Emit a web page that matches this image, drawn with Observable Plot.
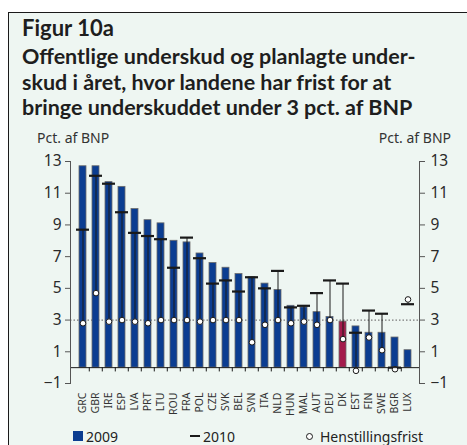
<!DOCTYPE html>
<html>
<head>
<meta charset="utf-8">
<script src="https://cdn.jsdelivr.net/npm/d3@7"></script>
<script src="https://cdn.jsdelivr.net/npm/@observablehq/plot@0.6"></script>
<style>
  html, body { margin: 0; padding: 0; background: #fff; }
  #root { position: relative; width: 467px; height: 445px; overflow: hidden; background: #fff; font-family: "Noto Sans", sans-serif; }
  #panel { position: absolute; left: 8px; top: 12px; right: 0; bottom: 0; background: #eef6f2; border-top: 1.5px solid #1a1a1a; border-left: 1.5px solid #1a1a1a; }
  .title { position: absolute; left: 22px; color: #1e1e1e; font-family: Lato, sans-serif; font-weight: 700; white-space: nowrap; }
  .unit { position: absolute; top: 128px; font-size: 14px; color: #333; font-family: "Noto Sans", sans-serif; }
  #chart { position: absolute; left: 0; top: 125px; }
  #legend { position: absolute; top: 426px; left: 0; width: 467px; height: 20px; font-size: 14px; color: #222; font-family: "Noto Sans", sans-serif; }
  .li { position: absolute; top: 0; display: flex; align-items: center; height: 20px; }
</style>
</head>
<body>
<div id="root">
  <div id="panel"></div>
  <div class="title" style="top:15px;font-size:22px;line-height:26px;">Figur 10a</div>
  <div class="title" style="top:44px;font-size:21.5px;line-height:25.5px;">Offentlige underskud og planlagte under-<br>skud i året, hvor landene har frist for at<br>bringe underskuddet under 3 pct. af BNP</div>
  <div class="unit" style="left:37px;">Pct. af BNP</div>
  <div class="unit" style="right:16px;">Pct. af BNP</div>
  <div id="chart"></div>
  <div id="legend">
    <div class="li" style="left:73px;"><span style="display:inline-block;width:10px;height:10px;background:#0b3d91;margin-right:3px;"></span>2009</div>
    <div class="li" style="left:190px;"><span style="display:inline-block;width:10px;height:2.5px;background:#1a1a1a;margin-right:3px;"></span>2010</div>
    <div class="li" style="left:306px;"><span style="display:inline-block;width:5px;height:5px;border:1px solid #1a1a1a;border-radius:50%;background:#fff;margin-right:7px;"></span>Henstillingsfrist</div>
  </div>
</div>
<script>
const countries = ["GRC","GBR","IRE","ESP","LVA","PRT","LTU","ROU","FRA","POL","CZE","SVK","BEL","SVN","ITA","NLD","HUN","MAL","AUT","DEU","DK","EST","FIN","SWE","BGR","LUX"];
const deficit2009 = [12.7,12.7,11.7,11.4,10.0,9.3,9.1,8.0,7.9,7.2,6.6,6.3,5.9,5.7,5.3,4.9,3.9,3.8,3.5,3.2,2.9,2.6,2.2,2.2,1.9,1.1];
const deficit2010 = [8.7,12.1,11.6,9.8,8.5,8.3,8.1,6.3,8.2,6.9,5.3,5.5,4.8,5.7,5.0,6.1,3.8,3.9,4.7,5.5,5.3,2.2,3.6,3.4,0.0,4.0];
const deadline = [2.8,4.7,2.9,3.0,2.9,2.8,3.0,3.0,3.0,2.9,3.0,3.0,3.0,1.6,2.7,3.0,2.8,2.9,2.7,3.0,1.8,-0.2,1.9,1.1,-0.1,4.3];
const highlight = "DK";
const yTicks = [-1,1,3,5,7,9,11,13];

const data = countries.map((c, i) => ({country: c, v2009: deficit2009[i], v2010: deficit2010[i], frist: deadline[i]}));

const W = 467, H = 300, ML = 70, MR = 48;
const step = (W - ML - MR) / countries.length;

const blue = "#0b3d91", red = "#a31a4b";

const chart = Plot.plot({
  width: W,
  height: H,
  marginLeft: ML,
  marginRight: MR,
  marginTop: 36,
  marginBottom: 42,
  style: {background: "transparent", fontFamily: "Noto Sans, sans-serif", color: "#2a2a2a", overflow: "visible"},
  x: {domain: countries, paddingInner: 0.5, paddingOuter: 0.25, label: null},
  y: {domain: [-1, 13], label: null},
  marks: [
    Plot.ruleY([3], {stroke: "#7a7a7a", strokeWidth: 1.3, strokeDasharray: "1.5,2"}),
    Plot.barY(data, {x: "country", y: "v2009", fill: d => d.country === highlight ? red : blue, stroke: "#6b6b6b", strokeWidth: 0.8}),
    Plot.ruleX(data, {x: "country", y1: "v2010", y2: "frist", stroke: "#1a1a1a", strokeWidth: 1}),
    Plot.tickY(data, {x: "country", y: "v2010", stroke: "#1a1a1a", strokeWidth: 2.2, insetLeft: -3, insetRight: -3}),
    Plot.dot(data, {x: "country", y: "frist", r: 2.8, fill: "white", stroke: "#1a1a1a", strokeWidth: 1}),
    Plot.ruleY([0], {stroke: "#1a1a1a", strokeWidth: 1}),
    Plot.ruleX(countries.slice(1), {x: d => d, dx: -step / 2, y1: 0, y2: -0.27, stroke: "#1a1a1a", strokeWidth: 1}),
    Plot.frame({anchor: "left", stroke: "#555"}),
    Plot.frame({anchor: "right", stroke: "#555"}),
    Plot.axisY(yTicks, {anchor: "left", tickSize: 5, tickPadding: 4, fontSize: 15.5, label: null, stroke: "#555", fill: "#2a2a2a"}),
    Plot.axisY(yTicks, {anchor: "right", tickSize: 5, tickPadding: 6, fontSize: 15.5, label: null, stroke: "#555", fill: "#2a2a2a"}),
    Plot.axisX({anchor: "bottom", tickSize: 0, tickPadding: 9, tickRotate: -90, fontSize: 10.5, label: null, fill: "#333"})
  ]
});
document.getElementById("chart").appendChild(chart);
</script>
</body>
</html>
